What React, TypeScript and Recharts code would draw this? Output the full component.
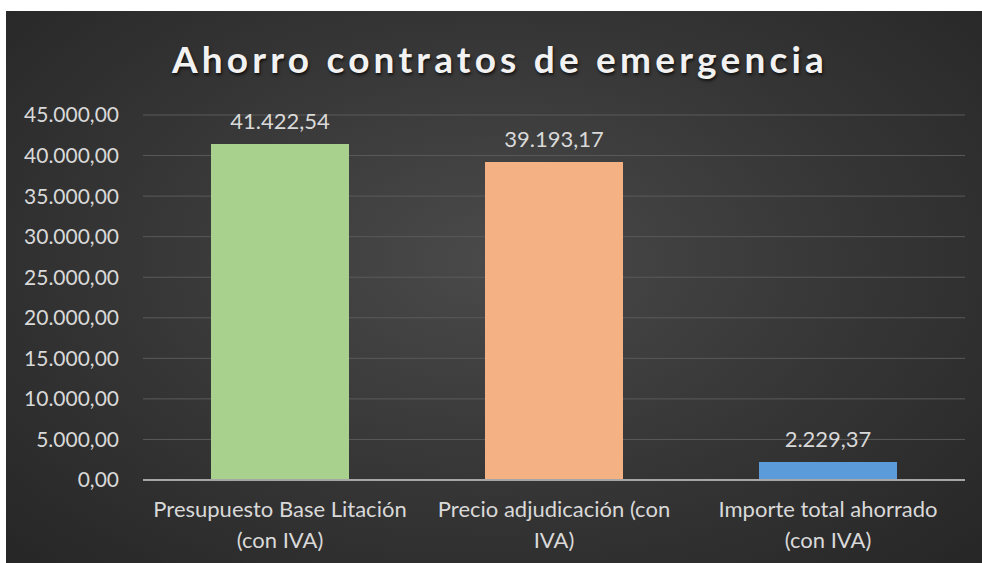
import * as React from "react"
import { Bar, BarChart, CartesianGrid, Cell, LabelList, XAxis, YAxis } from "recharts"

const categories = [
	"Presupuesto Base Litación (con IVA)",
	"Precio adjudicación (con IVA)",
	"Importe total ahorrado (con IVA)",
]
const categoryLines = [
	["Presupuesto Base Litación", "(con IVA)"],
	["Precio adjudicación (con", "IVA)"],
	["Importe total ahorrado", "(con IVA)"],
]
const values = [41422.54, 39193.17, 2229.37]
const yTicks = [0, 5000, 10000, 15000, 20000, 25000, 30000, 35000, 40000, 45000]

const COLORS = ["#a9d18e", "#f4b183", "#5b9bd9"]
const FONT = "Lato, 'Open Sans', sans-serif"

const data = categories.map((name, i) => ({ name, value: values[i] }))

// 45000 -> "45.000,00"
const fmt = (v: number) => {
	const [int, dec] = v.toFixed(2).split(".")
	return int.replace(/\B(?=(\d{3})+(?!\d))/g, ".") + "," + dec
}

// eslint-disable-next-line @typescript-eslint/no-explicit-any
const CategoryTick = (props: any) => {
	const { x, y, payload } = props
	const lines = categoryLines[payload.index] ?? [payload.value]
	return (
		<g transform={`translate(${x},${y})`}>
			{lines.map((line: string, i: number) => (
				<text
					key={i}
					x={0}
					y={0}
					dy={29 + i * 31}
					textAnchor="middle"
					fill="#d9d9d9"
					fontSize={22}
					fontFamily={FONT}>
					{line}
				</text>
			))}
		</g>
	)
}

export default function App() {
	return (
		<div
			style={{
				position: "absolute",
				left: 6,
				top: 11,
				width: 976,
				height: 552,
				overflow: "hidden",
				background: "radial-gradient(ellipse at 50% 45%, #4a4a4a 0%, #353535 55%, #262626 100%)",
			}}>
			<div
				style={{
					position: "absolute",
					top: 25,
					left: 12,
					width: 964,
					textAlign: "center",
					color: "#f2f2f2",
					fontFamily: FONT,
					fontWeight: 700,
					fontSize: 37,
					letterSpacing: 4.2,
					textShadow: "1px 2px 3px rgba(0,0,0,0.7)",
				}}>
				Ahorro contratos de emergencia
			</div>
			<BarChart
				width={976}
				height={552}
				data={data}
				margin={{ top: 104, right: 17, bottom: 0, left: 0 }}>
				<CartesianGrid vertical={false} stroke="#5a5a5a" strokeWidth={1} />
				<YAxis
					width={137}
					domain={[0, 45000]}
					ticks={yTicks}
					tickFormatter={fmt}
					axisLine={false}
					tickLine={false}
					tickMargin={18}
					tick={{ fill: "#d9d9d9", fontSize: 21, fontFamily: FONT }}
				/>
				<XAxis
					dataKey="name"
					height={83}
					axisLine={{ stroke: "#a6a6a6", strokeWidth: 2 }}
					tickLine={false}
					interval={0}
					tick={<CategoryTick />}
				/>
				<Bar dataKey="value" isAnimationActive={false} barSize={138}>
					{data.map((entry, index) => (
						<Cell key={`cell-${index}`} fill={COLORS[index]} />
					))}
					<LabelList
						dataKey="value"
						position="top"
						offset={15}
						formatter={(v: number) => fmt(v)}
						fill="#d9d9d9"
						fontSize={22}
						fontFamily={FONT}
					/>
				</Bar>
			</BarChart>
		</div>
	)
}
